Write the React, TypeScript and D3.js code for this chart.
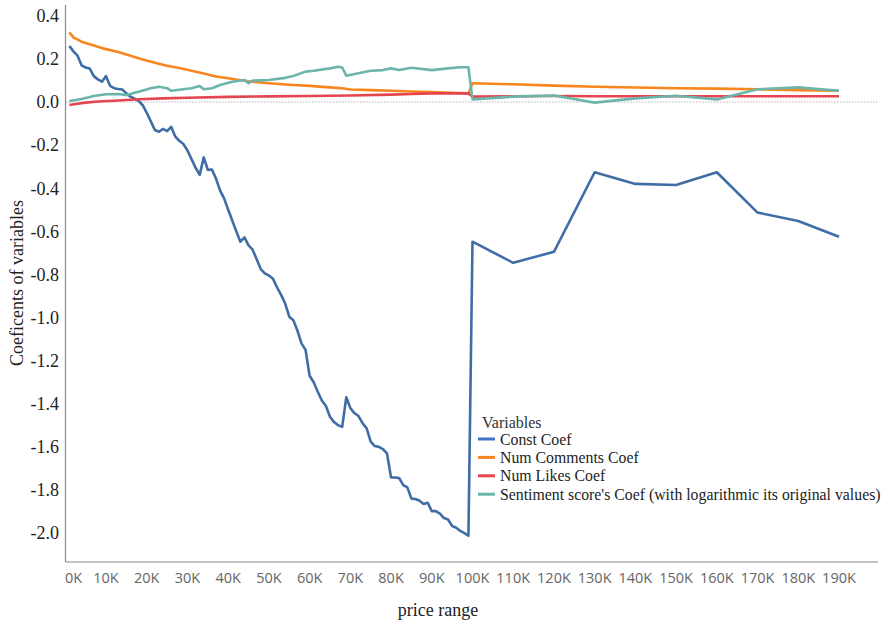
import * as d3 from "d3";

// x values are in thousands (K); 1K steps up to 99K, then 10K steps
const constCoef: [number, number][] = [
  [1, 0.26], [2, 0.235], [3, 0.215], [4, 0.17], [5, 0.16], [6, 0.155], [7, 0.12], [8, 0.105], [9, 0.094],
  [10, 0.12], [11, 0.075], [12, 0.064], [13, 0.06], [14, 0.058], [15, 0.04], [16, 0.025], [17, 0.015],
  [18, 0.005], [19, -0.015], [20, -0.05], [21, -0.09], [22, -0.13], [23, -0.138], [24, -0.125], [25, -0.135],
  [26, -0.115], [27, -0.16], [28, -0.18], [29, -0.195], [30, -0.225], [31, -0.265], [32, -0.305], [33, -0.338],
  [34, -0.257], [35, -0.315], [36, -0.313], [37, -0.355], [38, -0.41], [39, -0.447], [40, -0.5], [41, -0.55],
  [42, -0.6], [43, -0.648], [44, -0.628], [45, -0.665], [46, -0.685], [47, -0.73], [48, -0.775], [49, -0.795],
  [50, -0.805], [51, -0.82], [52, -0.86], [53, -0.895], [54, -0.935], [55, -0.996], [56, -1.012], [57, -1.06],
  [58, -1.12], [59, -1.15], [60, -1.27], [61, -1.3], [62, -1.344], [63, -1.385], [64, -1.41], [65, -1.46],
  [66, -1.485], [67, -1.5], [68, -1.507], [69, -1.37], [70, -1.42], [71, -1.443], [72, -1.457], [73, -1.49],
  [74, -1.514], [75, -1.576], [76, -1.596], [77, -1.6], [78, -1.61], [79, -1.63], [80, -1.742], [81, -1.742],
  [82, -1.745], [83, -1.777], [84, -1.788], [85, -1.84], [86, -1.842], [87, -1.85], [88, -1.865], [89, -1.859],
  [90, -1.898], [91, -1.898], [92, -1.91], [93, -1.93], [94, -1.937], [95, -1.967], [96, -1.975], [97, -1.99],
  [98, -2.0], [99, -2.012], [100, -0.648], [110, -0.746], [120, -0.695], [130, -0.326], [140, -0.38],
  [150, -0.385], [160, -0.326], [170, -0.513], [180, -0.552], [190, -0.625],
];

const commentsCoef: [number, number][] = [
  [1, 0.323], [2, 0.3], [4, 0.28], [7, 0.262], [9, 0.25], [13, 0.232], [16, 0.215], [19, 0.197], [22, 0.182],
  [25, 0.168], [28, 0.158], [31, 0.145], [34, 0.132], [37, 0.118], [40, 0.11], [43, 0.101], [46, 0.094],
  [50, 0.087], [55, 0.08], [60, 0.075], [65, 0.068], [68, 0.064], [70, 0.058], [75, 0.055], [80, 0.052],
  [85, 0.049], [90, 0.046], [95, 0.043], [99, 0.04], [100, 0.087], [110, 0.082], [120, 0.076], [130, 0.071],
  [140, 0.067], [150, 0.064], [160, 0.062], [170, 0.059], [180, 0.055], [190, 0.052],
];

const likesCoef: [number, number][] = [
  [1, -0.014], [3, -0.008], [5, -0.003], [8, 0.002], [12, 0.006], [18, 0.013], [24, 0.017], [30, 0.02],
  [40, 0.024], [50, 0.026], [60, 0.028], [70, 0.03], [80, 0.034], [85, 0.037], [90, 0.04], [99, 0.04],
  [100, 0.025], [110, 0.027], [120, 0.028], [130, 0.027], [140, 0.027], [150, 0.027], [160, 0.027],
  [170, 0.027], [180, 0.027], [190, 0.027],
];

const sentimentCoef: [number, number][] = [
  [1, 0.005], [4, 0.014], [7, 0.028], [10, 0.036], [13, 0.037], [15, 0.032], [18, 0.048], [21, 0.064],
  [23, 0.071], [25, 0.064], [26, 0.052], [28, 0.057], [31, 0.064], [33, 0.074], [34, 0.059], [36, 0.064],
  [38, 0.079], [41, 0.094], [44, 0.102], [45, 0.087], [46, 0.099], [50, 0.102], [54, 0.112], [56, 0.121],
  [59, 0.141], [61, 0.145], [65, 0.156], [67, 0.164], [68, 0.16], [69, 0.122], [72, 0.133], [75, 0.145],
  [78, 0.148], [80, 0.156], [82, 0.148], [85, 0.159], [90, 0.148], [94, 0.156], [97, 0.161], [99, 0.161],
  [100, 0.012], [110, 0.025], [120, 0.03], [130, -0.003], [140, 0.017], [150, 0.029], [160, 0.012],
  [170, 0.059], [180, 0.068], [190, 0.052],
];

const xTickValues = [0, 10, 20, 30, 40, 50, 60, 70, 80, 90, 100, 110, 120, 130, 140, 150, 160, 170, 180, 190];
const yTickValues = [0.4, 0.2, 0.0, -0.2, -0.4, -0.6, -0.8, -1.0, -1.2, -1.4, -1.6, -1.8, -2.0];

const seriesNames = [
  "Const Coef",
  "Num Comments Coef",
  "Num Likes Coef",
  "Sentiment score's Coef (with logarithmic its original values)",
];
const seriesData = [constCoef, commentsCoef, likesCoef, sentimentCoef];
const lineColors = ["#3f6ea6", "#f8861f", "#e5454f", "#6bb5ab"];
const legendColors = ["#4472c4", "#f8861f", "#e5454f", "#6bb5ab"];

const W = 892;
const H = 621;
const serif = "Liberation Serif, Times New Roman, serif";

export default function App() {
  const x = d3.scaleLinear().domain([0, 200]).range([65.3, 879.7]);
  const y = d3.scaleLinear().domain([-2.134, 0.45]).range([562, 5]);

  const line = d3
    .line<[number, number]>()
    .x((d) => x(d[0]))
    .y((d) => y(d[1]));

  return (
    <svg
      width={W}
      height={H}
      style={{ position: "absolute", left: 0, top: 0, background: "#fff" }}
    >
      {/* zero reference */}
      <line x1={66} x2={878} y1={y(0)} y2={y(0)} stroke="#b5b5b5" strokeWidth={1} strokeDasharray="1.5,1.5" />

      {/* axes */}
      <line x1={65.5} x2={65.5} y1={5} y2={562} stroke="#8a8a8a" strokeWidth={1.2} />
      <line x1={65.5} x2={878} y1={562} y2={562} stroke="#8a8a8a" strokeWidth={1.2} />

      {yTickValues.map((v) => (
        <text
          key={v}
          x={59}
          y={y(v)}
          dy="0.35em"
          textAnchor="end"
          fontFamily={serif}
          fontSize={18}
          fill="#222"
        >
          {v.toFixed(1)}
        </text>
      ))}

      {xTickValues.map((v) => (
        <text
          key={v}
          x={v === 0 ? 73.5 : x(v)}
          y={578}
          dy="0.35em"
          textAnchor="middle"
          fontFamily="Open Sans, sans-serif"
          fontSize={14.5}
          fill="#666"
        >
          {v}K
        </text>
      ))}

      <text
        transform={`translate(17,283) rotate(-90)`}
        textAnchor="middle"
        dy="0.35em"
        fontFamily={serif}
        fontSize={18}
        fill="#222"
      >
        Coeficents of variables
      </text>
      <text x={438} y={610} dy="0.35em" textAnchor="middle" fontFamily={serif} fontSize={18} fill="#222">
        price range
      </text>

      {/* series */}
      {seriesData.map((data, i) => (
        <path
          key={seriesNames[i]}
          d={line(data) ?? ""}
          fill="none"
          stroke={lineColors[i]}
          strokeWidth={2.6}
          strokeLinejoin="round"
        />
      ))}

      {/* legend */}
      <text x={482} y={422} dy="0.35em" fontFamily={serif} fontSize={16} fill="#333">
        Variables
      </text>
      {seriesNames.map((name, i) => (
        <g key={name} transform={`translate(478,${439 + i * 18.4})`}>
          <line x1={0} x2={17} y1={0} y2={0} stroke={legendColors[i]} strokeWidth={3} />
          <text x={22} y={0} dy="0.35em" fontFamily={serif} fontSize={15.8} fill="#222">
            {name}
          </text>
        </g>
      ))}
    </svg>
  );
}
